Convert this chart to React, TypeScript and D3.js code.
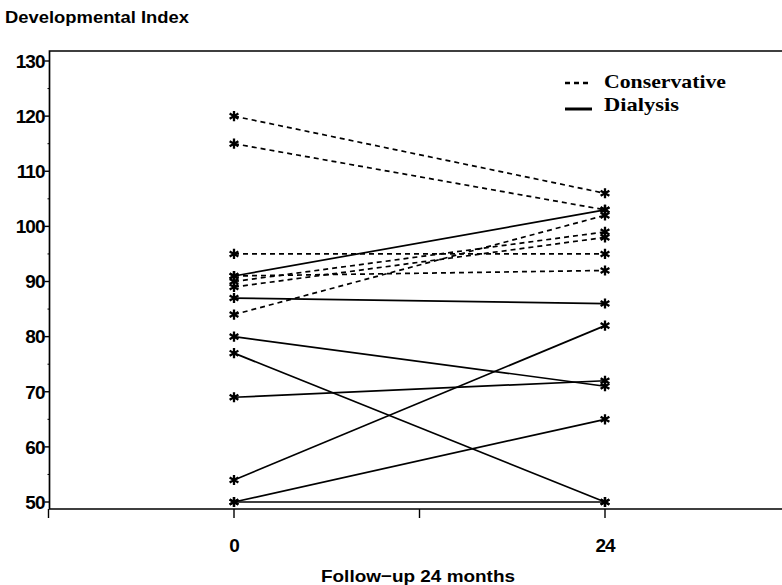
import React from "react";
import * as d3 from "d3";

// Developmental index at baseline and after 24 months of follow-up
const months = [0, 24];
const conservativeStart = [120, 115, 95, 91, 90, 89, 84];
const conservativeEnd = [106, 103, 95, 92, 99, 98, 102];
const dialysisStart = [91, 87, 80, 77, 69, 54, 50, 50];
const dialysisEnd = [103, 86, 71, 50, 72, 82, 65, 50];

const yTicks = [50, 60, 70, 80, 90, 100, 110, 120, 130];
const yMinorTicks = [55, 65, 75, 85, 95, 105, 115, 125];
const xTicks = [-12, 0, 12, 24, 36];
const xTickLabels = ["", "0", "", "24", ""];

const seriesNames = ["Conservative", "Dialysis"];

const width = 782;
const height = 585;

const x = d3.scaleLinear().domain([0, 24]).range([234, 605]);
const y = d3.scaleLinear().domain([50, 130]).range([502, 61]);

const frameTop = 51;
const frameBottom = 509;
const frameLeft = x(-12) + 1;

const star = d3.symbol().type(d3.symbolAsterisk).size(72)();

const sans = "'Liberation Sans', Arial, sans-serif";
const serif = "'Liberation Serif', 'Times New Roman', serif";

const pairs = (a: number[], b: number[]) => a.map((v, i) => [v, b[i]]);

const Subject = ({ vals, dashed }: { vals: number[]; dashed: boolean }) => (
  <g>
    <line
      x1={x(months[0])}
      y1={y(vals[0])}
      x2={x(months[1])}
      y2={y(vals[1])}
      stroke="#000"
      strokeWidth={1.7}
      strokeDasharray={dashed ? "5,4" : undefined}
    />
    {vals.map((v, i) => (
      <path
        key={i}
        d={star}
        transform={`translate(${x(months[i])},${y(v)})`}
        stroke="#000"
        strokeWidth={2.3}
        fill="none"
      />
    ))}
  </g>
);

export default function App() {
  return (
    <svg
      width={width}
      height={height}
      style={{ position: "absolute", left: 0, top: 0, background: "#fff" }}
    >
      <rect width={width} height={height} fill="#fff" />

      <text
        x={5}
        y={23}
        fontFamily={sans}
        fontWeight="bold"
        fontSize={17}
        textLength={184}
        lengthAdjust="spacingAndGlyphs"
      >
        Developmental Index
      </text>

      {/* frame */}
      <path
        d={`M${width + 10},${frameTop}H${frameLeft}V${frameBottom}H${width + 10}`}
        fill="none"
        stroke="#000"
        strokeWidth={1.7}
      />

      {/* y axis */}
      {yTicks.map((t) => (
        <g key={t}>
          <line x1={frameLeft - 5} x2={frameLeft} y1={y(t)} y2={y(t)} stroke="#000" strokeWidth={1.4} />
          <text
            x={frameLeft - 5}
            y={y(t)}
            dy="0.36em"
            textAnchor="end"
            fontFamily={sans}
            fontWeight="bold"
            fontSize={19}
            letterSpacing={-1}
          >
            {t}
          </text>
        </g>
      ))}
      {yMinorTicks.map((t) => (
        <line key={t} x1={frameLeft - 2} x2={frameLeft} y1={y(t)} y2={y(t)} stroke="#000" strokeWidth={1} />
      ))}

      {/* x axis */}
      {xTicks.map((t, i) => (
        <g key={t}>
          <line x1={x(t)} x2={x(t)} y1={frameBottom} y2={frameBottom + 9} stroke="#000" strokeWidth={1.4} />
          <text
            x={x(t)}
            y={552}
            textAnchor="middle"
            fontFamily={sans}
            fontWeight="bold"
            fontSize={19}
            letterSpacing={-1}
          >
            {xTickLabels[i]}
          </text>
        </g>
      ))}
      <text
        x={418}
        y={582}
        textAnchor="middle"
        fontFamily={sans}
        fontWeight="bold"
        fontSize={17}
        textLength={194}
        lengthAdjust="spacingAndGlyphs"
      >
        Follow−up 24 months
      </text>

      {/* subjects */}
      {pairs(conservativeStart, conservativeEnd).map((v, i) => (
        <Subject key={`c${i}`} vals={v} dashed />
      ))}
      {pairs(dialysisStart, dialysisEnd).map((v, i) => (
        <Subject key={`d${i}`} vals={v} dashed={false} />
      ))}

      {/* legend */}
      <g fontFamily={serif} fontWeight="bold" fontSize={19}>
        <line x1={565} x2={592} y1={83} y2={83} stroke="#000" strokeWidth={2.6} strokeDasharray="5,4" />
        <text x={604} y={88} textLength={122} lengthAdjust="spacingAndGlyphs">{seriesNames[0]}</text>
        <line x1={565} x2={592} y1={109} y2={109} stroke="#000" strokeWidth={3} />
        <text x={604} y={111} textLength={75} lengthAdjust="spacingAndGlyphs">{seriesNames[1]}</text>
      </g>
    </svg>
  );
}
